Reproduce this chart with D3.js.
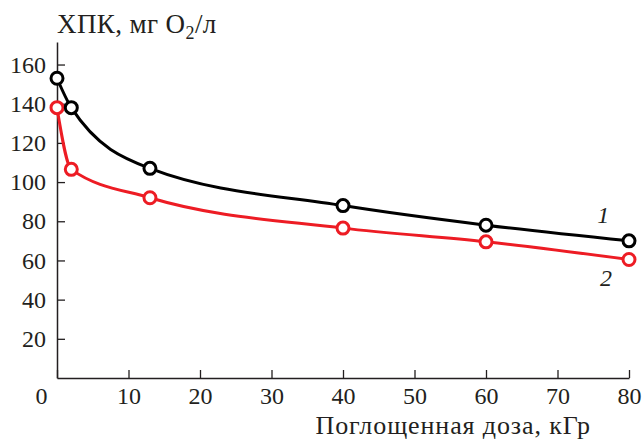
<!DOCTYPE html>
<html>
<head>
<meta charset="utf-8">
<script src="https://cdn.jsdelivr.net/npm/d3@7"></script>
<style>
  html, body { margin: 0; padding: 0; background: #fff; }
</style>
</head>
<body>
<svg id="chart" width="644" height="440"></svg>
<script>
const doses = [0, 2, 13, 40, 60, 80];
const codBlack = [153, 138, 107, 88, 78, 70];
const codRed = [138, 106.5, 92, 76.5, 69.5, 60.5];
const xTicks = [0, 10, 20, 30, 40, 50, 60, 70, 80];
const yTicks = [20, 40, 60, 80, 100, 120, 140, 160];

const serif = "'Liberation Serif', 'Times New Roman', serif";
const ink = "#231f20";

const margin = { top: 42, right: 15, bottom: 62, left: 57 };
const width = 629 - margin.left;
const height = 378 - margin.top;

const svg = d3.select("#chart");
const g = svg.append("g")
    .attr("transform", `translate(${margin.left}, ${margin.top})`);

const x = d3.scaleLinear().domain([0, 80]).range([0, width]);
const y = d3.scaleLinear().domain([0, 171.5]).range([height, 0]);

// axes, ticks pointing inward
const xAxis = g.append("g")
    .attr("transform", `translate(0, ${height})`)
    .call(d3.axisBottom(x).tickValues(xTicks).tickSize(-8).tickPadding(9).tickSizeOuter(0));
const yAxis = g.append("g")
    .call(d3.axisLeft(y).tickValues(yTicks).tickSize(-8).tickPadding(11).tickSizeOuter(0));

[xAxis, yAxis].forEach(a => {
    a.attr("font-family", null).attr("font-size", null);
    a.select(".domain").attr("stroke", ink).attr("stroke-width", 1.5);
    a.selectAll(".tick line").attr("stroke", ink).attr("stroke-width", 1.3);
    a.selectAll(".tick text").style("font-size", "24px").attr("fill", ink);
});
xAxis.selectAll(".tick text").attr("dy", "0.71em");
// the "0" label sits left of the y axis
xAxis.selectAll(".tick text").filter(d => d === 0).attr("x", -16);

const line = d3.line()
    .x((d, i) => x(doses[i]))
    .y(d => y(d))
    .curve(d3.curveMonotoneX);

const series = [
    { values: codRed, color: "#ed1c24" },
    { values: codBlack, color: "#000000" }
];

series.forEach(s => {
    g.append("path")
        .datum(s.values)
        .attr("fill", "none")
        .attr("stroke", s.color)
        .attr("stroke-width", 3)
        .attr("d", line);
    g.selectAll(null)
        .data(s.values)
        .enter().append("circle")
        .attr("cx", (d, i) => x(doses[i]))
        .attr("cy", d => y(d))
        .attr("r", 6)
        .attr("fill", "#fff")
        .attr("stroke", s.color)
        .attr("stroke-width", 3);
});

// curve numbers
g.append("text")
    .attr("x", x(76.4)).attr("y", y(79))
    .attr("text-anchor", "middle")
    .style("font-size", "24px").style("font-style", "italic")
    .text("1");
g.append("text")
    .attr("x", x(76.8)).attr("y", y(47))
    .attr("text-anchor", "middle")
    .style("font-size", "24px").style("font-style", "italic")
    .text("2");

// y axis title
const title = svg.append("text")
    .attr("x", 57).attr("y", 33)
    .style("font-size", "27px")
    .style("letter-spacing", "0.4px");
title.append("tspan").text("ХПК, мг O");
title.append("tspan").style("font-size", "18px").attr("dy", 6).text("2");
title.append("tspan").attr("dy", -6).text("/л");

// x axis title
svg.append("text")
    .attr("x", 591).attr("y", 434)
    .attr("text-anchor", "end")
    .style("font-size", "26px")
    .style("letter-spacing", "0.9px")
    .text("Поглощенная доза, кГр");

svg.selectAll("text").style("font-family", serif).attr("fill", ink);
</script>
</body>
</html>
